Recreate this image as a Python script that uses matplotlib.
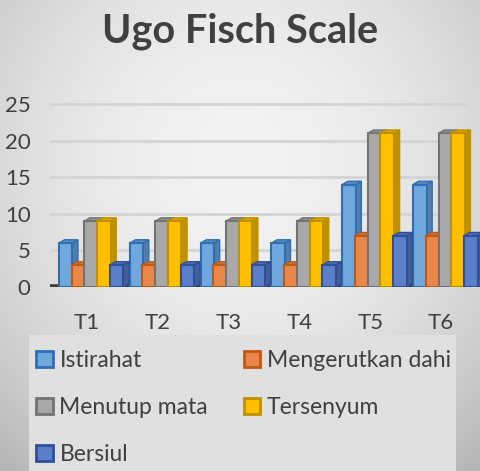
import matplotlib
matplotlib.use('Agg')
import matplotlib.pyplot as plt
import numpy as np
from matplotlib.patches import Polygon, Rectangle, Patch
from matplotlib.colors import to_rgb

plt.rcParams['font.family'] = ['Lato', 'DejaVu Sans']

# data
categories = ['T1', 'T2', 'T3', 'T4', 'T5', 'T6']
series_names = ['Istirahat', 'Mengerutkan dahi', 'Menutup mata', 'Tersenyum', 'Bersiul']
istirahat = [6, 6, 6, 6, 14, 14]
mengerutkan_dahi = [3, 3, 3, 3, 7, 7]
menutup_mata = [9, 9, 9, 9, 21, 21]
tersenyum = [9, 9, 9, 9, 21, 21]
bersiul = [3, 3, 3, 3, 7, 7]
y_ticks = [0, 5, 10, 15, 20, 25]

face_colors = ['#6fa8dc', '#e9874a', '#a8a8a8', '#ffc000', '#5b7fc8']
edge_colors = ['#2f6eb5', '#c05a12', '#737373', '#bf9000', '#2f4f9a']


def shade(color, f):
    r, g, b = to_rgb(color)
    return (r * f, g * f, b * f)


fig = plt.figure(figsize=(4.8, 4.71), dpi=100)

# radial gray background
bg = fig.add_axes([0, 0, 1, 1], zorder=-10)
gx, gy = np.meshgrid(np.linspace(0, 1, 240), np.linspace(0, 1, 240))
r = np.sqrt(((gx - 0.5) / 0.75) ** 2 + ((gy - 0.35) / 0.8) ** 2)
img = np.clip(0.95 - 0.22 * r ** 2, 0, 1)
bg.imshow(np.dstack([img, img, img]), extent=[0, 1, 0, 1], aspect='auto', origin='upper')
bg.axis('off')

# legend background box
bg.add_patch(Rectangle((29 / 480, 0), 427 / 480, 136 / 471, transform=bg.transAxes,
                       facecolor='#e0e0e0', edgecolor='none', zorder=2))

fig.text(0.5, 0.933, 'Ugo Fisch Scale', ha='center', va='center',
         fontsize=28.5, fontweight='bold', color='#404040')

ax = fig.add_axes([50 / 480, 184 / 471, 430 / 480, 190.3 / 471])
ax.set_facecolor('none')
for s in ax.spines.values():
    s.set_visible(False)

ax.set_xlim(-0.52, 5.55)
ax.set_ylim(0, 26)

for t in y_ticks[1:]:
    ax.plot([-0.5, 5.35], [t, t], color='#d4d4d4', lw=2, zorder=1)
ax.axhline(0, xmin=0, xmax=1, color='#3c3c3c', lw=4, zorder=2)

values = [istirahat, mengerutkan_dahi, menutup_mata, tersenyum, bersiul]
x = np.arange(len(categories))
stride = 0.18
width = 0.19
dx, dy = 0.08, 0.45
shift = 0.06

for i, vals in enumerate(values):
    offs = (i - 2) * stride + shift
    for xi, v in zip(x, vals):
        x0 = xi + offs - width / 2
        z = 3 + i
        # side face
        ax.add_patch(Polygon([[x0 + width, 0], [x0 + width + dx, dy],
                              [x0 + width + dx, v + dy], [x0 + width, v]],
                             closed=True, facecolor=shade(face_colors[i], 0.75),
                             edgecolor=edge_colors[i], lw=1, zorder=z))
        # top face
        ax.add_patch(Polygon([[x0, v], [x0 + dx, v + dy], [x0 + width + dx, v + dy],
                              [x0 + width, v]],
                             closed=True, facecolor=shade(face_colors[i], 0.85),
                             edgecolor=edge_colors[i], lw=1, zorder=z))
        # front face
        ax.add_patch(Rectangle((x0, 0), width, v, facecolor=face_colors[i],
                               edgecolor=edge_colors[i], lw=1.5, zorder=z))

ax.set_xticks(x)
ax.set_xticklabels(categories)
ax.set_yticks(y_ticks)
ax.tick_params(axis='both', length=0, labelsize=16, labelcolor='#404040')
ax.tick_params(axis='x', pad=19)
ax.tick_params(axis='y', pad=14)

# legend reads row by row, matplotlib fills column by column
order = [0, 2, 4, 1, 3]
handles = [Patch(facecolor=face_colors[i], edgecolor=edge_colors[i], lw=2) for i in order]
labels = [series_names[i] for i in order]
leg = fig.legend(handles, labels, loc='upper left', ncol=2,
                 bbox_to_anchor=(36 / 480, 1 - 350 / 471),
                 fontsize=16.5, frameon=False, borderaxespad=0, borderpad=0,
                 handlelength=0.72, handleheight=0.72, handletextpad=0.3,
                 labelspacing=1.13, columnspacing=1.55,
                 labelcolor='#404040')

fig.savefig('out.png', dpi=100)
